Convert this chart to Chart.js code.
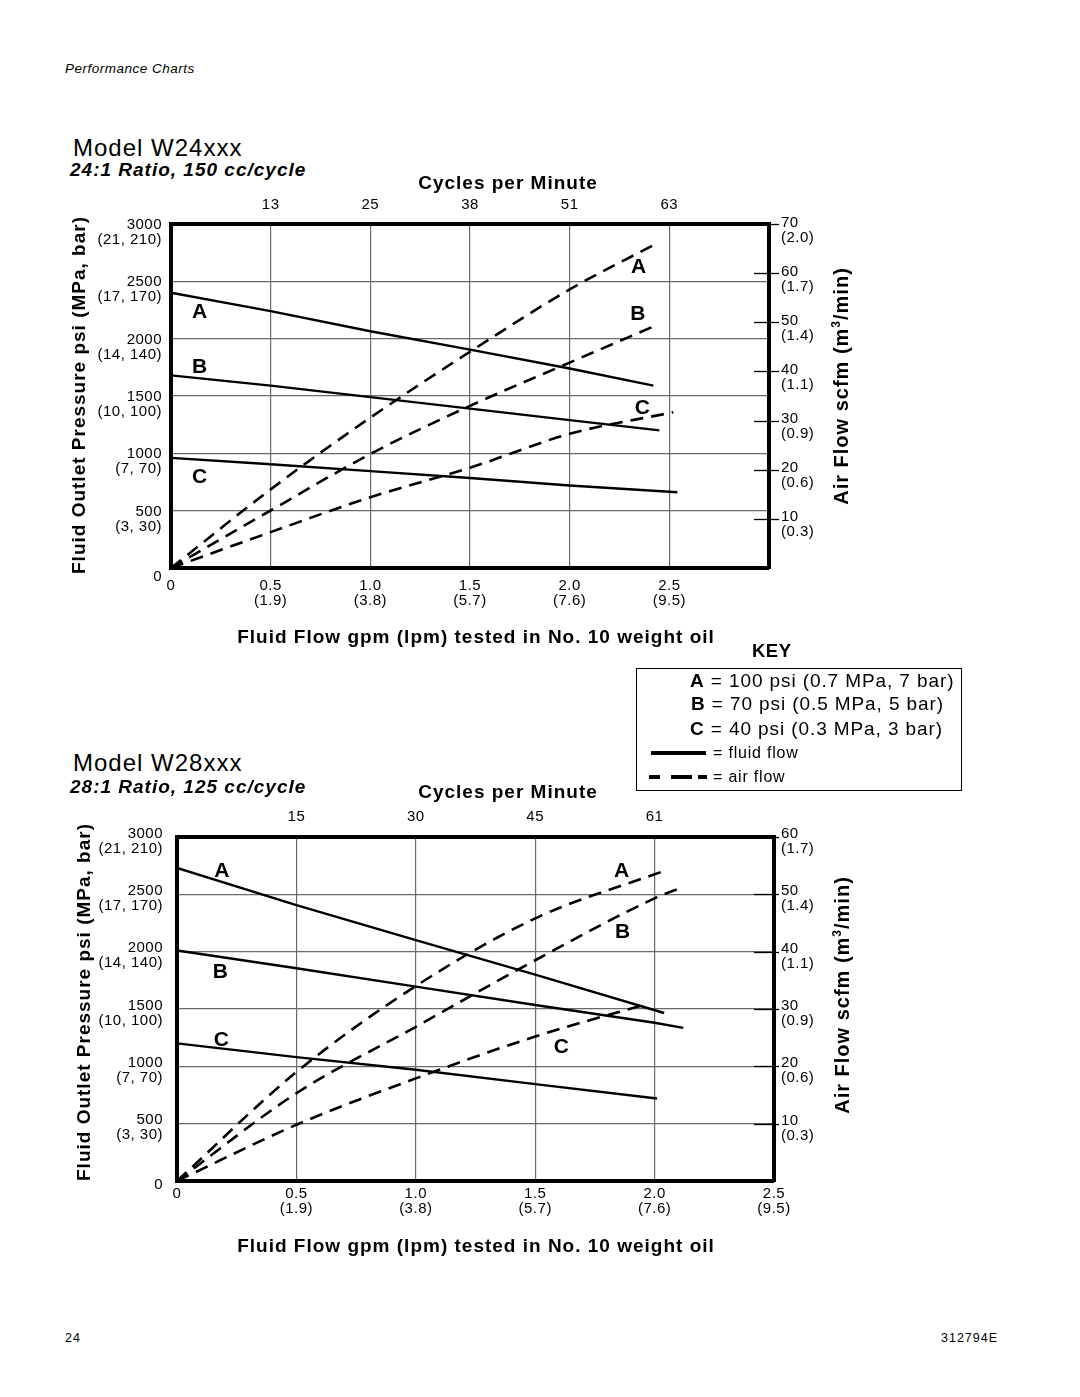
<!DOCTYPE html>
<html>
<head>
<meta charset="utf-8">
<script src="https://cdn.jsdelivr.net/npm/chart.js@4.4.1/dist/chart.umd.min.js"></script>
<style>
  html, body { margin: 0; padding: 0; background: #fff; }
  #page { position: relative; width: 1080px; height: 1397px; overflow: hidden;
          font-family: "Liberation Sans", Arial, Helvetica, sans-serif; color: #000; }
  .t { position: absolute; white-space: nowrap; line-height: 1; }
  .cv { position: absolute; left: 0; }
  .key-box { position: absolute; border: 1.5px solid #000; box-sizing: border-box; }
  .bar { position: absolute; background: #000; height: 4px; }
</style>
</head>
<body>
<div id="page">
  <div class="t" style="left:65px;top:62px;font-size:13.5px;font-style:italic;letter-spacing:0.5px">Performance Charts</div>

  <div class="t" style="left:73px;top:136px;font-size:24px;letter-spacing:1px">Model W24xxx</div>
  <div class="t" style="left:70px;top:160px;font-size:19px;font-weight:bold;font-style:italic;letter-spacing:1px">24:1 Ratio, 150 cc/cycle</div>
  <canvas id="w24" class="cv" width="1080" height="520" style="top:150px"></canvas>

  <div class="t" style="left:752px;top:642px;font-size:18.5px;font-weight:bold;letter-spacing:0.5px">KEY</div>
  <div class="key-box" style="left:636px;top:668px;width:326px;height:123px"></div>
  <div class="t" style="left:690px;top:671px;font-size:19px;letter-spacing:0.9px"><b>A</b> = 100 psi (0.7 MPa, 7 bar)</div>
  <div class="t" style="left:691px;top:694px;font-size:19px;letter-spacing:0.9px"><b>B</b> = 70 psi (0.5 MPa, 5 bar)</div>
  <div class="t" style="left:690px;top:719px;font-size:19px;letter-spacing:0.9px"><b>C</b> = 40 psi (0.3 MPa, 3 bar)</div>
  <div class="bar" style="left:651px;top:751px;width:55px"></div>
  <div class="t" style="left:713px;top:745px;font-size:16px;letter-spacing:0.8px">= fluid flow</div>
  <div class="bar" style="left:649px;top:775px;width:11px"></div>
  <div class="bar" style="left:671px;top:775px;width:21px"></div>
  <div class="bar" style="left:698px;top:775px;width:9px"></div>
  <div class="t" style="left:713px;top:769px;font-size:16px;letter-spacing:0.8px">= air flow</div>

  <div class="t" style="left:73px;top:751px;font-size:24px;letter-spacing:1px">Model W28xxx</div>
  <div class="t" style="left:70px;top:777px;font-size:19px;font-weight:bold;font-style:italic;letter-spacing:1px">28:1 Ratio, 125 cc/cycle</div>
  <canvas id="w28" class="cv" width="1080" height="520" style="top:760px"></canvas>

  <div class="t" style="left:65px;top:1332px;font-size:12.5px;letter-spacing:1px">24</div>
  <div class="t" style="left:941px;top:1332px;font-size:12.5px;letter-spacing:1px">312794E</div>
</div>

<script>
const FONT = '"Liberation Sans", Arial, Helvetica, sans-serif';
const GRID = '#6a6a6a';

// ── Axes communs ────────────────────────────────────────────────────────────
const psiTicks = [0, 500, 1000, 1500, 2000, 2500, 3000];
const psiLabels = ['0', ['500', '(3, 30)'], ['1000', '(7, 70)'], ['1500', '(10, 100)'],
                   ['2000', '(14, 140)'], ['2500', '(17, 170)'], ['3000', '(21, 210)']];

// ── Model W24xxx ────────────────────────────────────────────────────────────
const w24GpmTicks = [0, 0.5, 1.0, 1.5, 2.0, 2.5, 3.0];
const w24GpmLabels = ['0', ['0.5', '(1.9)'], ['1.0', '(3.8)'], ['1.5', '(5.7)'],
                      ['2.0', '(7.6)'], ['2.5', '(9.5)'], ''];
const w24CycleTicks = [0.5, 1.0, 1.5, 2.0, 2.5];
const w24CycleLabels = ['13', '25', '38', '51', '63'];
const w24ScfmTicks = [10, 20, 30, 40, 50, 60, 70];
const w24ScfmLabels = [['10', '(0.3)'], ['20', '(0.6)'], ['30', '(0.9)'], ['40', '(1.1)'],
                       ['50', '(1.4)'], ['60', '(1.7)'], ['70', '(2.0)']];

const w24FluidGpmA = [0, 0.5, 1.0, 1.5, 2.0, 2.42];
const w24FluidPsiA = [2400, 2240, 2065, 1905, 1740, 1590];
const w24FluidGpmB = [0, 0.5, 1.0, 1.5, 2.0, 2.45];
const w24FluidPsiB = [1680, 1590, 1490, 1390, 1290, 1200];
const w24FluidGpmC = [0, 0.5, 1.0, 1.5, 2.0, 2.54];
const w24FluidPsiC = [960, 905, 845, 785, 720, 660];

const w24AirGpmA = [0, 0.5, 1.0, 1.5, 2.0, 2.42];
const w24AirScfmA = [0, 16, 30.6, 44, 56.7, 65.7];
const w24AirGpmB = [0, 0.5, 1.0, 1.5, 2.0, 2.44];
const w24AirScfmB = [0, 11.7, 23.2, 33, 41.8, 49.5];
const w24AirGpmC = [0, 0.5, 1.0, 1.5, 2.0, 2.52];
const w24AirScfmC = [0, 7.3, 14.4, 20.4, 27.3, 31.7];

// ── Model W28xxx ────────────────────────────────────────────────────────────
const w28GpmTicks = [0, 0.5, 1.0, 1.5, 2.0, 2.5];
const w28GpmLabels = ['0', ['0.5', '(1.9)'], ['1.0', '(3.8)'], ['1.5', '(5.7)'],
                      ['2.0', '(7.6)'], ['2.5', '(9.5)']];
const w28CycleTicks = [0.5, 1.0, 1.5, 2.0];
const w28CycleLabels = ['15', '30', '45', '61'];
const w28ScfmTicks = [10, 20, 30, 40, 50, 60];
const w28ScfmLabels = [['10', '(0.3)'], ['20', '(0.6)'], ['30', '(0.9)'], ['40', '(1.1)'],
                       ['50', '(1.4)'], ['60', '(1.7)']];

const w28FluidGpmA = [0, 0.5, 1.0, 1.5, 2.04];
const w28FluidPsiA = [2730, 2405, 2100, 1800, 1465];
const w28FluidGpmB = [0, 0.5, 1.0, 1.5, 2.0, 2.12];
const w28FluidPsiB = [2010, 1855, 1695, 1535, 1380, 1335];
const w28FluidGpmC = [0, 0.5, 1.0, 1.5, 2.01];
const w28FluidPsiC = [1200, 1080, 970, 845, 720];

const w28AirGpmA = [0, 0.5, 1.0, 1.5, 2.04];
const w28AirScfmA = [0, 19, 34, 45.8, 54.1];
const w28AirGpmB = [0, 0.5, 1.0, 1.5, 2.0, 2.12];
const w28AirScfmB = [0, 15.3, 26.9, 38.5, 49.3, 51.3];
const w28AirGpmC = [0, 0.5, 1.0, 1.5, 1.97];
const w28AirScfmC = [0, 9.8, 17.9, 25.2, 30.9];

// ────────────────────────────────────────────────────────────────────────────
const pts = (xs, ys) => xs.map((x, i) => ({ x, y: ys[i] }));

const fluidSet = (xs, ys) => ({
    data: pts(xs, ys), yAxisID: 'y', borderColor: '#000', borderWidth: 2.4,
    pointRadius: 0, tension: 0,
});
const airSet = (xs, ys) => ({
    data: pts(xs, ys), yAxisID: 'y2', borderColor: '#000', borderWidth: 2.6,
    borderDash: [13, 8], pointRadius: 0, cubicInterpolationMode: 'monotone',
});

const tickFont = { family: FONT, size: 15, lineHeight: 1.0 };

// Lettres A/B/C, titres d'axes et petites graduations de droite
const decor = {
    id: 'decor',
    beforeDraw(chart) {
        chart.ctx.letterSpacing = '0.5px';
    },
    afterDraw(chart, args, o) {
        const { ctx, chartArea, scales } = chart;
        ctx.save();
        ctx.fillStyle = '#000';
        ctx.strokeStyle = '#000';
        ctx.letterSpacing = '1px';

        // graduations scfm (à cheval sur le cadre)
        ctx.lineWidth = 1.3;
        o.scfmTicks.forEach(v => {
            const py = Math.round(scales.y2.getPixelForValue(v)) + 0.5;
            ctx.beginPath();
            ctx.moveTo(chartArea.right - o.tickIn, py);
            ctx.lineTo(chartArea.right + o.tickOut, py);
            ctx.stroke();
        });

        // lettres des courbes
        ctx.font = 'bold 21px ' + FONT;
        ctx.textAlign = 'center';
        ctx.textBaseline = 'alphabetic';
        o.letters.forEach(l => {
            ctx.fillText(l.t, scales.x.getPixelForValue(l.x), scales.y.getPixelForValue(l.y) + 7.5);
        });

        // titres
        const title = (text, x, y, size, rot) => {
            ctx.save();
            ctx.font = 'bold ' + size + 'px ' + FONT;
            ctx.translate(x, y);
            if (rot) ctx.rotate(-Math.PI / 2);
            ctx.fillText(text, 0, size * 0.36);
            ctx.restore();
        };
        title('Cycles per Minute', o.top[0], o.top[1], 19, false);
        title('Fluid Flow gpm (lpm) tested in No. 10 weight oil', o.bottom[0], o.bottom[1], 19, false);
        title('Fluid Outlet Pressure psi (MPa, bar)', o.left[0], o.left[1], 19, true);

        // titre de droite avec exposant
        ctx.save();
        ctx.translate(o.right[0], o.right[1]);
        ctx.rotate(-Math.PI / 2);
        ctx.textAlign = 'left';
        const big = 'bold 20px ' + FONT, small = 'bold 12px ' + FONT;
        ctx.font = big;
        const w1 = ctx.measureText('Air Flow scfm (m').width;
        const w3 = ctx.measureText('/min)').width;
        ctx.font = small;
        const w2 = ctx.measureText('3').width;
        let x0 = -(w1 + w2 + w3) / 2;
        ctx.font = big;
        ctx.fillText('Air Flow scfm (m', x0, 7);
        ctx.font = small;
        ctx.fillText('3', x0 + w1, -1);
        ctx.font = big;
        ctx.fillText('/min)', x0 + w1 + w2, 7);
        ctx.restore();

        ctx.restore();
    },
};

function makeChart(id, c) {
    return new Chart(document.getElementById(id), {
        type: 'line',
        data: { datasets: c.datasets },
        plugins: [decor],
        options: {
            responsive: false,
            animation: false,
            events: [],
            layout: { padding: 0 },
            plugins: { legend: { display: false }, tooltip: { enabled: false }, decor: c.decor },
            scales: {
                x: {
                    type: 'linear', position: 'bottom', min: 0, max: c.gpmMax,
                    afterFit: s => { s.height = c.bottomH; },
                    afterBuildTicks: s => { s.ticks = c.gpmTicks.map(v => ({ value: v })); },
                    grid: { color: GRID, lineWidth: 1.2, drawTicks: false },
                    border: { color: '#000', width: 4 },
                    ticks: {
                        color: '#000', padding: c.xPad, maxRotation: 0, autoSkip: false,
                        font: tickFont, callback: (v, i) => c.gpmLabels[i],
                    },
                },
                x2: {
                    type: 'linear', position: 'top', min: 0, max: c.gpmMax,
                    afterFit: s => { s.height = c.topH; },
                    afterBuildTicks: s => { s.ticks = c.cycleTicks.map(v => ({ value: v })); },
                    grid: { drawOnChartArea: false, drawTicks: false },
                    border: { color: '#000', width: 4 },
                    ticks: {
                        color: '#000', padding: c.topPad, maxRotation: 0, autoSkip: false,
                        font: tickFont, callback: (v, i) => c.cycleLabels[i],
                    },
                },
                y: {
                    type: 'linear', position: 'left', min: 0, max: 3000,
                    afterFit: s => { s.width = c.leftW; },
                    afterBuildTicks: s => { s.ticks = psiTicks.map(v => ({ value: v })); },
                    grid: { color: GRID, lineWidth: 1.2, drawTicks: false },
                    border: { color: '#000', width: 4 },
                    ticks: {
                        color: '#000', padding: c.yPad, labelOffset: c.yOffset, autoSkip: false,
                        font: tickFont, callback: (v, i) => psiLabels[i],
                    },
                },
                y2: {
                    type: 'linear', position: 'right', min: 0, max: c.scfmMax,
                    afterFit: s => { s.width = c.rightW; },
                    afterBuildTicks: s => { s.ticks = c.scfmTicks.map(v => ({ value: v })); },
                    grid: { drawOnChartArea: false, drawTicks: false },
                    border: { color: '#000', width: 4 },
                    ticks: {
                        color: '#000', padding: c.y2Pad, labelOffset: c.y2Offset, autoSkip: false,
                        font: tickFont, callback: (v, i) => c.scfmLabels[i],
                    },
                },
            },
        },
    });
}

makeChart('w24', {
    gpmMax: 3.0, scfmMax: 70,
    gpmTicks: w24GpmTicks, gpmLabels: w24GpmLabels,
    cycleTicks: w24CycleTicks, cycleLabels: w24CycleLabels,
    scfmTicks: w24ScfmTicks, scfmLabels: w24ScfmLabels,
    leftW: 171, rightW: 311, topH: 74, bottomH: 102,
    xPad: 10.5, topPad: 11.5, yPad: 9, yOffset: 8.5, y2Pad: 12, y2Offset: 6,
    datasets: [
        fluidSet(w24FluidGpmA, w24FluidPsiA),
        fluidSet(w24FluidGpmB, w24FluidPsiB),
        fluidSet(w24FluidGpmC, w24FluidPsiC),
        airSet(w24AirGpmA, w24AirScfmA),
        airSet(w24AirGpmB, w24AirScfmB),
        airSet(w24AirGpmC, w24AirScfmC),
    ],
    decor: {
        scfmTicks: w24ScfmTicks, tickIn: 15, tickOut: 10,
        top: [508, 32], bottom: [476, 486], left: [78, 245], right: [841, 236],
        letters: [
            { t: 'A', x: 0.146, y: 2250 }, { t: 'B', x: 0.146, y: 1762 }, { t: 'C', x: 0.146, y: 811 },
            { t: 'A', x: 2.348, y: 2642 }, { t: 'B', x: 2.345, y: 2224 }, { t: 'C', x: 2.367, y: 1407 },
        ],
    },
});

makeChart('w28', {
    gpmMax: 2.5, scfmMax: 60,
    gpmTicks: w28GpmTicks, gpmLabels: w28GpmLabels,
    cycleTicks: w28CycleTicks, cycleLabels: w28CycleLabels,
    scfmTicks: w28ScfmTicks, scfmLabels: w28ScfmLabels,
    leftW: 177, rightW: 306, topH: 77, bottomH: 99,
    xPad: 5.5, topPad: 12.5, yPad: 14, yOffset: 4, y2Pad: 7, y2Offset: 4.5,
    datasets: [
        fluidSet(w28FluidGpmA, w28FluidPsiA),
        fluidSet(w28FluidGpmB, w28FluidPsiB),
        fluidSet(w28FluidGpmC, w28FluidPsiC),
        airSet(w28AirGpmA, w28AirScfmA),
        airSet(w28AirGpmB, w28AirScfmB),
        airSet(w28AirGpmC, w28AirScfmC),
    ],
    decor: {
        scfmTicks: w28ScfmTicks, tickIn: 20, tickOut: 5,
        top: [508, 31], bottom: [476, 485], left: [83, 242], right: [842, 235],
        letters: [
            { t: 'A', x: 0.19, y: 2718 }, { t: 'B', x: 0.184, y: 1840 }, { t: 'C', x: 0.188, y: 1244 },
            { t: 'A', x: 1.864, y: 2718 }, { t: 'B', x: 1.868, y: 2184 }, { t: 'C', x: 1.612, y: 1186 },
        ],
    },
});
</script>
</body>
</html>
